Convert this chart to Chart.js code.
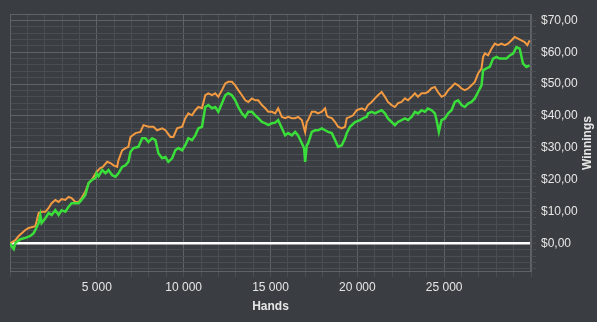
<!DOCTYPE html>
<html>
<head>
<meta charset="utf-8">
<title>Winnings</title>
<script src="https://cdn.jsdelivr.net/npm/chart.js@4.4.1/dist/chart.umd.min.js"></script>
<style>
    html, body { margin: 0; padding: 0; background: #3a3d41; }
</style>
</head>
<body>
<canvas id="winningsChart" width="597" height="322"></canvas>
<script>
// Winnings with rake (orange) and net winnings (green)
const orangeHands = [0, 310, 500, 885, 1075, 1460, 1650, 1820, 2035, 2225,
    2395, 2610, 2800, 2970, 3185, 3375, 3545, 3760, 3950, 4120,
    4335, 4525, 4695, 4985, 5195, 5330, 5600, 5785, 5960, 6170,
    6245, 6460, 6650, 6820, 6935, 7225, 7510, 7685, 7970, 8260,
    8470, 8760, 8950, 9235, 9410, 9620, 9910, 10095, 10270, 10480,
    10670, 10845, 11055, 11245, 11420, 11630, 11820, 11995, 12205, 12395,
    12565, 12780, 12970, 13145, 13355, 13545, 13720, 13930, 14125, 14295,
    14505, 14700, 14870, 15080, 15270, 15440, 15655, 15845, 16015, 16230,
    16420, 16590, 16805, 16995, 17090, 17165, 17380, 17570, 17740, 17955,
    18145, 18240, 18315, 18530, 18720, 18890, 19105, 19295, 19390, 19580,
    19755, 19965, 20255, 20445, 20615, 20825, 21015, 21190, 21400, 21590,
    21760, 21975, 22165, 22340, 22550, 22740, 22915, 23125, 23315, 23490,
    23700, 23890, 24060, 24275, 24465, 24640, 24850, 25040, 25230, 25425,
    25615, 25805, 26000, 26190, 26380, 26575, 26765, 26955, 27150, 27240,
    27340, 27530, 27725, 27915, 28100, 28295, 28490, 28675, 28870, 29060,
    29250, 29445, 29635, 29790, 29920];
const orangeWinnings = [0, 1.0, 2.3, 4.2, 4.8, 5.4, 9.5, 9.9, 9.9, 11.1,
    12.6, 13.6, 13.0, 13.9, 13.6, 14.6, 14.2, 13.0, 13.0, 14.2,
    16.2, 18.9, 19.8, 22.4, 23.6, 23.9, 25.6, 25.2, 24.5, 24.0,
    26.1, 29.2, 29.9, 30.3, 33.4, 34.6, 35.0, 37.1, 36.6, 36.6,
    35.5, 36.1, 35.5, 33.4, 33.4, 36.1, 36.6, 39.3, 40.8, 40.2,
    41.8, 42.8, 42.4, 46.5, 47.1, 46.5, 47.1, 46.0, 48.1, 50.2,
    50.7, 50.7, 49.6, 48.1, 46.5, 44.9, 44.4, 45.5, 44.9, 44.9,
    43.4, 42.4, 41.3, 41.3, 40.8, 42.4, 39.7, 39.3, 39.7, 39.3,
    39.3, 39.7, 38.7, 34.9, 38.1, 38.7, 41.3, 41.3, 40.8, 41.3,
    42.4, 40.2, 39.7, 39.3, 38.1, 36.6, 36.1, 36.6, 39.3, 39.7,
    40.2, 41.8, 42.4, 41.8, 43.4, 44.4, 45.5, 46.5, 47.5, 46.0,
    44.4, 43.4, 42.8, 44.0, 44.4, 45.5, 44.9, 46.0, 47.1, 46.0,
    47.1, 47.1, 47.5, 48.7, 49.1, 47.5, 46.0, 46.5, 48.1, 49.1,
    50.2, 49.6, 48.6, 48.1, 48.6, 49.6, 50.7, 53.3, 54.9, 58.5,
    59.6, 59.0, 61.1, 62.7, 62.2, 62.7, 62.2, 62.7, 63.7, 64.8,
    64.3, 63.7, 63.2, 62.2, 63.7];

const greenHands = [0, 115, 215, 310, 600, 885, 1170, 1360, 1460, 1650,
    1745, 1820, 2035, 2225, 2395, 2610, 2800, 2970, 3185, 3375,
    3545, 3760, 3950, 4120, 4335, 4525, 4695, 4925, 4985, 5100,
    5310, 5500, 5670, 5885, 6075, 6245, 6460, 6650, 6820, 6935,
    7110, 7395, 7610, 7800, 7970, 8185, 8375, 8545, 8760, 8950,
    9120, 9335, 9520, 9695, 9910, 10095, 10270, 10480, 10670, 10845,
    11055, 11245, 11420, 11630, 11820, 11995, 12205, 12395, 12565, 12780,
    12970, 13145, 13355, 13545, 13720, 13930, 14125, 14295, 14505, 14700,
    14870, 15080, 15270, 15440, 15655, 15845, 16015, 16230, 16420, 16590,
    16805, 16935, 16995, 17090, 17165, 17380, 17570, 17740, 17955, 18145,
    18315, 18530, 18720, 18890, 19105, 19295, 19390, 19580, 19870, 20155,
    20345, 20540, 20615, 20825, 21015, 21190, 21400, 21590, 21760, 21975,
    22165, 22340, 22550, 22740, 22915, 23125, 23315, 23490, 23700, 23890,
    24060, 24275, 24465, 24560, 24695, 24850, 25040, 25230, 25425, 25615,
    25805, 26000, 26190, 26380, 26575, 26765, 26955, 27150, 27240, 27435,
    27625, 27815, 28010, 28200, 28395, 28585, 28775, 28970, 29160, 29350,
    29540, 29735, 29920];
const greenWinnings = [0, -1.1, -1.8, 0.1, 1.3, 1.7, 2.3, 3.2, 4.2, 6.4,
    8.9, 6.4, 7.9, 9.5, 8.9, 10.4, 8.9, 10.4, 9.9, 11.5,
    12.6, 12.6, 12.6, 13.6, 15.1, 18.9, 19.8, 20.5, 22.0, 21.1,
    23.0, 22.0, 23.0, 21.4, 20.9, 22.0, 24.0, 24.5, 25.6, 28.7,
    29.9, 30.3, 33.0, 33.0, 31.8, 33.0, 32.4, 28.3, 26.7, 27.1,
    25.6, 26.7, 29.2, 29.9, 29.2, 30.8, 33.0, 32.4, 33.9, 36.1,
    36.6, 42.8, 43.4, 42.4, 42.8, 41.3, 44.0, 46.5, 47.1, 46.5,
    44.9, 42.8, 40.8, 39.7, 41.3, 41.3, 40.2, 39.3, 38.1, 37.7,
    37.1, 37.7, 37.9, 38.7, 36.1, 33.9, 34.6, 33.9, 35.0, 33.9,
    31.4, 29.9, 25.6, 30.8, 31.4, 35.0, 35.5, 35.5, 36.1, 35.5,
    35.0, 34.6, 32.4, 30.3, 30.8, 33.0, 34.6, 36.6, 38.1, 38.7,
    39.3, 39.7, 40.8, 41.3, 40.8, 41.3, 41.8, 40.8, 39.2, 38.1,
    37.1, 38.1, 38.7, 39.2, 38.7, 39.7, 41.3, 40.8, 41.8, 41.3,
    42.3, 41.8, 40.8, 38.7, 35.0, 38.7, 39.2, 40.8, 41.8, 44.4,
    44.9, 43.4, 42.8, 43.9, 44.4, 45.5, 47.5, 49.6, 54.3, 54.9,
    55.4, 58.0, 58.5, 58.0, 58.0, 58.0, 59.0, 59.6, 61.6, 61.1,
    56.4, 55.4, 55.9];

// Axes
const xLabelTicks = [5000, 10000, 15000, 20000, 25000];
const yLabelTicks = [0, 10, 20, 30, 40, 50, 60, 70];
const xMinorStep = 1000;
const yMinorStep = 2;

const BG = '#3a3d41';
const GRID_MAJOR = '#5f6266';
const GRID_MINOR = '#4a4d51';
const TEXT = '#e6e6e6';
const FONT = "'Liberation Sans', Arial, sans-serif";

function formatHands(value) {
    return String(value).replace(/\B(?=(\d{3})+(?!\d))/g, ' ');
}

function toPoints(hands, values) {
    return hands.map((h, i) => ({ x: h, y: values[i] }));
}

const framePlugin = {
    id: 'frame',
    beforeDraw(chart) {
        const ctx = chart.ctx;
        ctx.save();
        ctx.fillStyle = BG;
        ctx.fillRect(0, 0, chart.width, chart.height);
        ctx.restore();
    },
    beforeDatasetsDraw(chart) {
        const { ctx, chartArea } = chart;
        ctx.save();
        ctx.strokeStyle = GRID_MAJOR;
        ctx.lineWidth = 1;
        ctx.strokeRect(Math.round(chartArea.left) + 0.5, Math.round(chartArea.top) + 0.5,
            Math.round(chartArea.right - chartArea.left) - 1, Math.round(chartArea.bottom - chartArea.top) - 1);
        ctx.restore();
    },
    afterDraw(chart) {
        // y title reads bottom to top on the right side
        const { ctx, chartArea } = chart;
        ctx.save();
        ctx.translate(588, (chartArea.top + chartArea.bottom) / 2);
        ctx.rotate(-Math.PI / 2);
        ctx.fillStyle = TEXT;
        ctx.font = 'bold 12px ' + FONT;
        ctx.textAlign = 'center';
        ctx.textBaseline = 'middle';
        ctx.fillText('Winnings', 0, 0);
        ctx.restore();
    }
};

new Chart(document.getElementById('winningsChart'), {
    type: 'line',
    data: {
        datasets: [
            {
                label: 'Net',
                data: toPoints(greenHands, greenWinnings),
                borderColor: '#3ade3a',
                borderWidth: 2.5,
                pointRadius: 0,
                tension: 0,
                order: 0
            },
            {
                label: 'With rake',
                data: toPoints(orangeHands, orangeWinnings),
                borderColor: '#f29a42',
                borderWidth: 2,
                pointRadius: 0,
                tension: 0,
                order: 1
            }
        ]
    },
    options: {
        responsive: false,
        animation: false,
        layout: { padding: { left: 10, top: 14, right: 0, bottom: 0 } },
        plugins: {
            legend: { display: false },
            tooltip: { enabled: false }
        },
        scales: {
            x: {
                type: 'linear',
                position: 'bottom',
                min: 0,
                max: 30000,
                afterBuildTicks(axis) {
                    const ticks = [];
                    for (let v = axis.min; v <= axis.max; v += xMinorStep) ticks.push({ value: v });
                    axis.ticks = ticks;
                },
                afterFit(axis) { axis.height = 50; },
                ticks: {
                    autoSkip: false,
                    maxRotation: 0,
                    padding: 3,
                    color: TEXT,
                    font: { family: FONT, size: 12 },
                    callback: (value) => xLabelTicks.includes(value) ? formatHands(value) : ''
                },
                grid: {
                    color: (c) => c.tick && c.tick.value % 5000 === 0 ? GRID_MAJOR : GRID_MINOR,
                    tickColor: GRID_MINOR,
                    tickLength: 5,
                    lineWidth: 1
                },
                border: { display: false },
                title: {
                    display: true,
                    text: 'Hands',
                    color: TEXT,
                    font: { family: FONT, size: 12, weight: 'bold' },
                    padding: { top: 4, bottom: 8 }
                }
            },
            y: {
                type: 'linear',
                position: 'right',
                min: -9,
                max: 72,
                afterBuildTicks(axis) {
                    const ticks = [];
                    for (let v = -8; v <= 70; v += yMinorStep) ticks.push({ value: v });
                    axis.ticks = ticks;
                },
                afterFit(axis) { axis.width = 66; },
                ticks: {
                    autoSkip: false,
                    padding: 5,
                    color: TEXT,
                    font: { family: FONT, size: 12 },
                    callback: (value) => yLabelTicks.includes(value) ? '$' + value + ',00' : ''
                },
                grid: {
                    color: (c) => {
                        if (!c.tick) return GRID_MINOR;
                        if (c.tick.value === 0) return '#ffffff';
                        return c.tick.value % 10 === 0 ? GRID_MAJOR : GRID_MINOR;
                    },
                    lineWidth: (c) => c.tick && c.tick.value === 0 ? 2.5 : 1,
                    tickColor: GRID_MINOR,
                    tickWidth: 1,
                    tickLength: 5
                },
                border: { display: false }
            }
        }
    },
    plugins: [framePlugin]
});
</script>
</body>
</html>
